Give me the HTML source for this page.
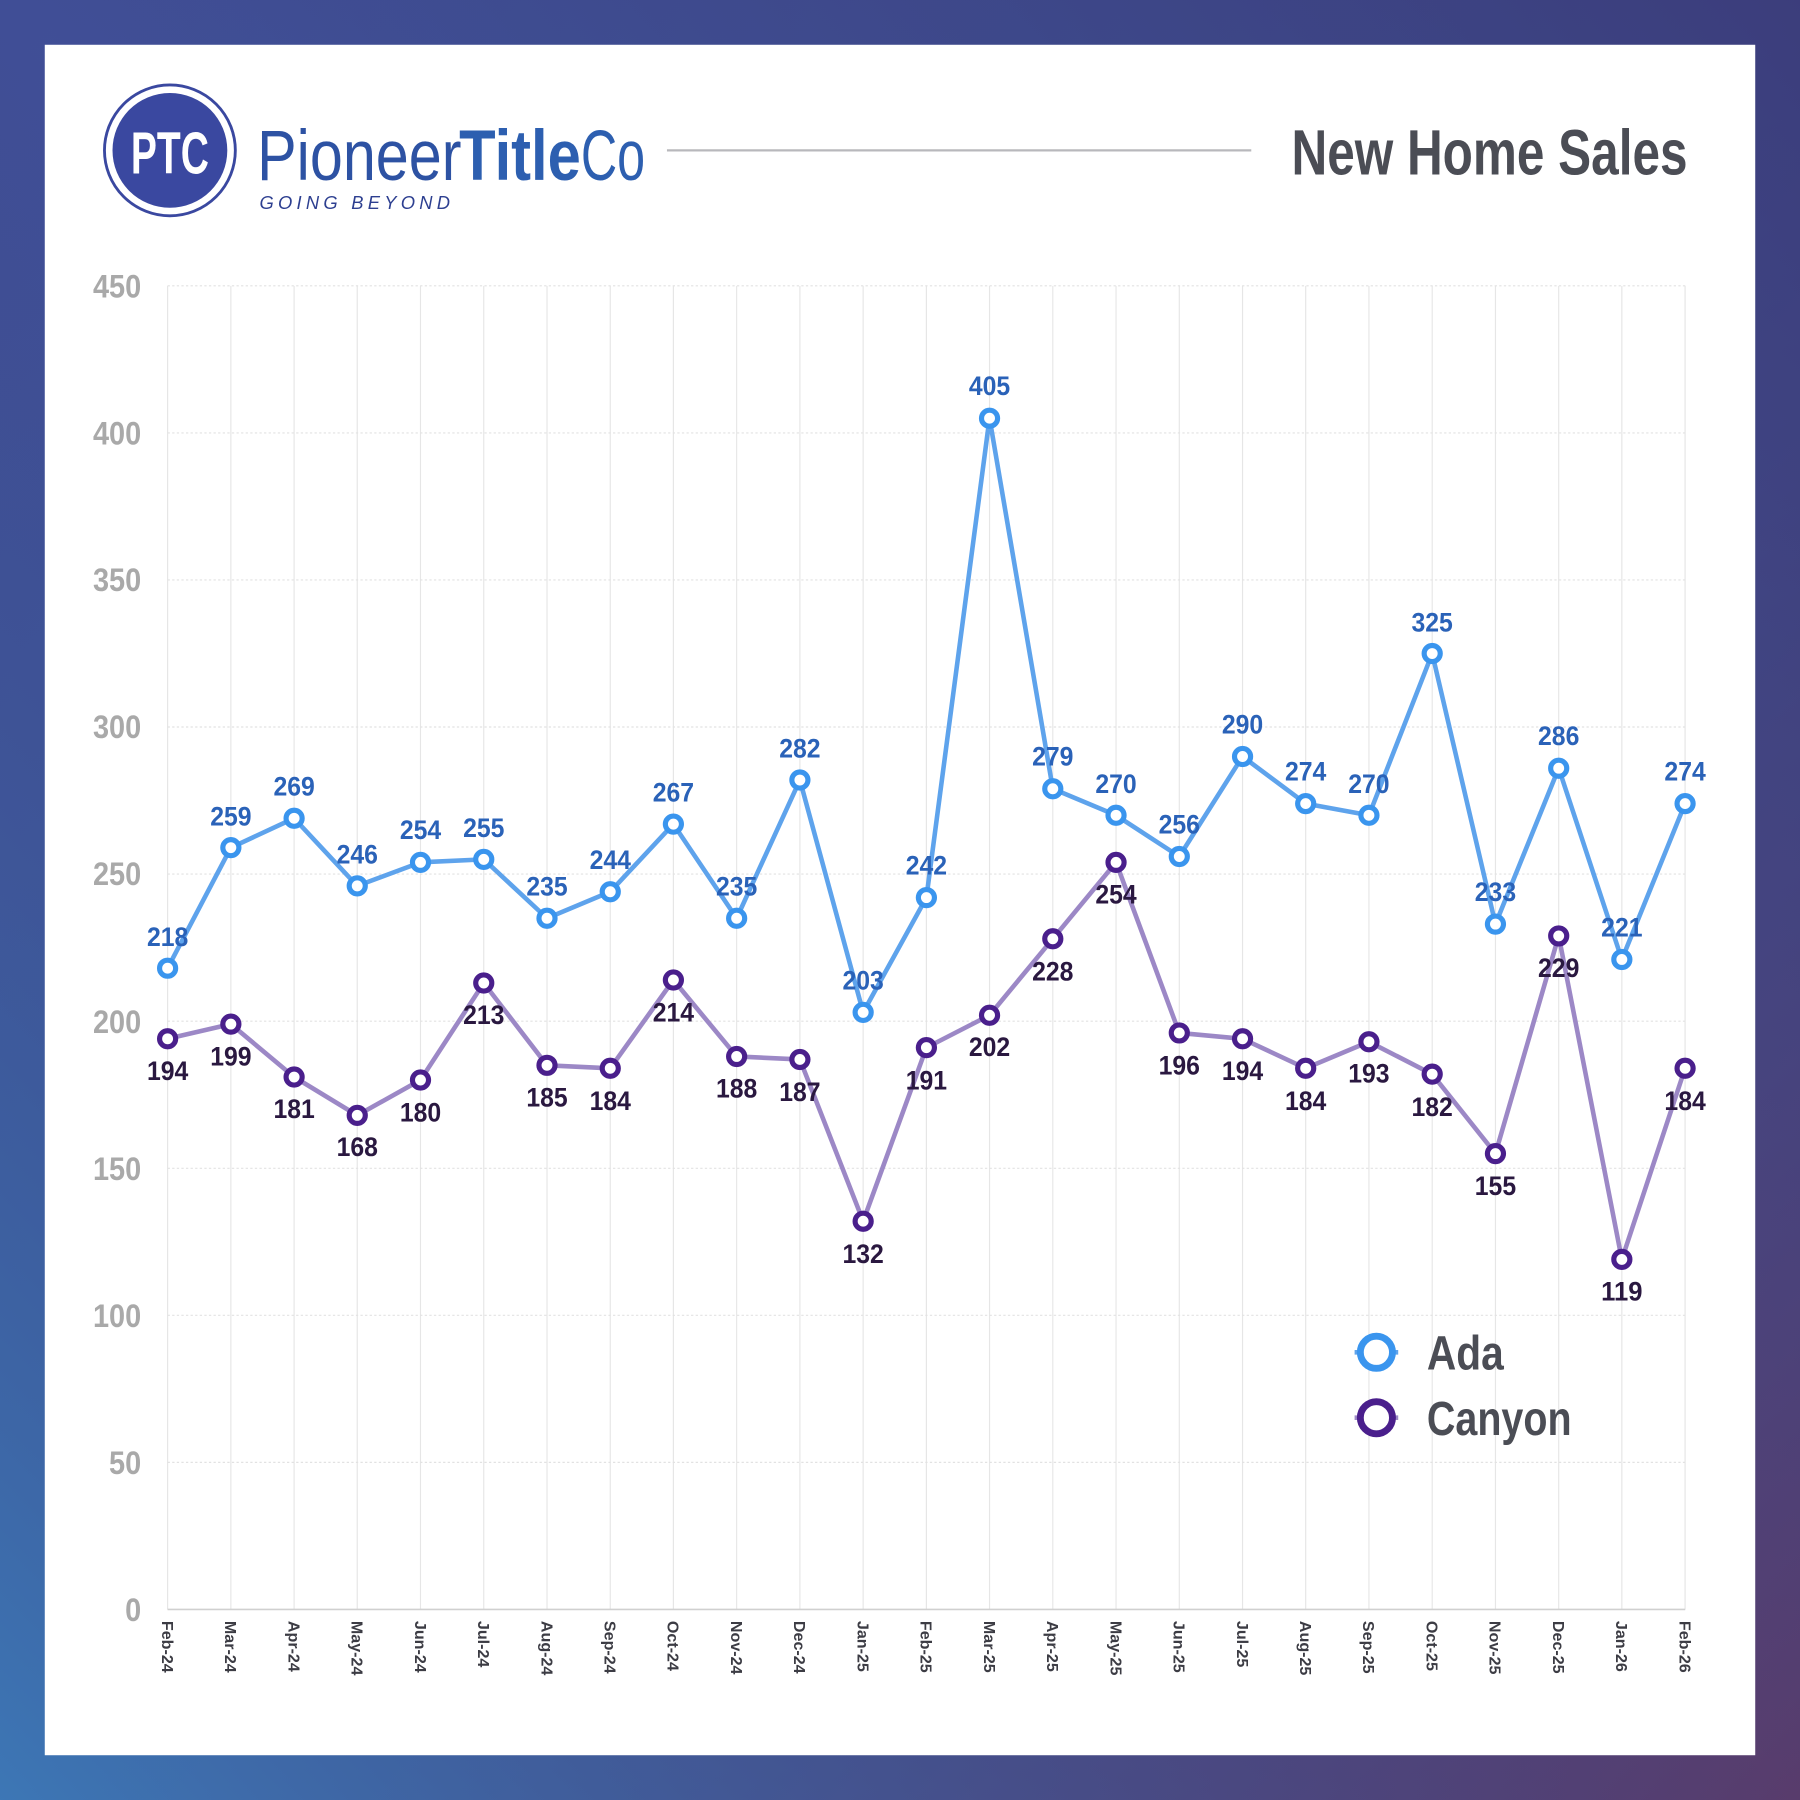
<!DOCTYPE html>
<html><head><meta charset="utf-8"><style>
html,body{margin:0;padding:0;width:1800px;height:1800px;overflow:hidden}
svg{display:block}
text{font-family:"Liberation Sans",sans-serif}
</style></head><body>
<svg width="1800" height="1800" viewBox="0 0 1568 1568" xmlns="http://www.w3.org/2000/svg">
<defs>
<linearGradient id="bg" x1="0" y1="0" x2="1" y2="1">
<stop offset="0" stop-color="#404e96"/><stop offset="0.5" stop-color="#3d5a9e"/><stop offset="1" stop-color="#583c6c"/>
</linearGradient>
<linearGradient id="bg2" x1="1" y1="0" x2="0" y2="1">
<stop offset="0" stop-color="#3c3a78" stop-opacity="0.9"/><stop offset="0.5" stop-color="#3c3a78" stop-opacity="0"/><stop offset="1" stop-color="#3d7ab8" stop-opacity="0.9"/>
</linearGradient>
</defs>
<rect width="1568" height="1568" fill="url(#bg)"/>
<rect width="1568" height="1568" fill="url(#bg2)"/>
<rect x="39" y="39" width="1490" height="1490" fill="#fff"/>

<!-- logo -->
<circle cx="148" cy="131" r="57" fill="#fff" stroke="#3a48a0" stroke-width="2.5"/>
<circle cx="148" cy="131" r="50" fill="#3a48a0"/>
<text x="148" y="151" text-anchor="middle" font-size="52" font-weight="bold" fill="#fff" textLength="68" lengthAdjust="spacingAndGlyphs">PTC</text>
<text x="224" y="157" font-size="62" fill="#2d52a3" textLength="178" lengthAdjust="spacingAndGlyphs">Pioneer</text>
<text x="400" y="157" font-size="62" font-weight="bold" fill="#2d5fb0" textLength="106" lengthAdjust="spacingAndGlyphs">Title</text>
<text x="506" y="157" font-size="62" fill="#2d5fb0" textLength="56" lengthAdjust="spacingAndGlyphs">Co</text>
<text x="226" y="182" font-size="16" font-style="italic" fill="#2d3f90" textLength="166" lengthAdjust="spacing">GOING  BEYOND</text>
<line x1="581" y1="131" x2="1090" y2="131" stroke="#b8b8bc" stroke-width="2"/>
<text x="1470" y="152" text-anchor="end" font-size="56" font-weight="bold" fill="#4b4d55" textLength="345" lengthAdjust="spacingAndGlyphs">New Home Sales</text>

<!-- grid -->
<g stroke="#e6e6e6" stroke-width="1">
<line x1="146" y1="249" x2="146" y2="1402"/><line x1="201.1" y1="249" x2="201.1" y2="1402"/><line x1="256.2" y1="249" x2="256.2" y2="1402"/><line x1="311.2" y1="249" x2="311.2" y2="1402"/><line x1="366.3" y1="249" x2="366.3" y2="1402"/><line x1="421.4" y1="249" x2="421.4" y2="1402"/><line x1="476.5" y1="249" x2="476.5" y2="1402"/><line x1="531.6" y1="249" x2="531.6" y2="1402"/><line x1="586.6" y1="249" x2="586.6" y2="1402"/><line x1="641.7" y1="249" x2="641.7" y2="1402"/><line x1="696.8" y1="249" x2="696.8" y2="1402"/><line x1="751.9" y1="249" x2="751.9" y2="1402"/><line x1="807" y1="249" x2="807" y2="1402"/><line x1="862" y1="249" x2="862" y2="1402"/><line x1="917.1" y1="249" x2="917.1" y2="1402"/><line x1="972.2" y1="249" x2="972.2" y2="1402"/><line x1="1027.3" y1="249" x2="1027.3" y2="1402"/><line x1="1082.4" y1="249" x2="1082.4" y2="1402"/><line x1="1137.4" y1="249" x2="1137.4" y2="1402"/><line x1="1192.5" y1="249" x2="1192.5" y2="1402"/><line x1="1247.6" y1="249" x2="1247.6" y2="1402"/><line x1="1302.7" y1="249" x2="1302.7" y2="1402"/><line x1="1357.8" y1="249" x2="1357.8" y2="1402"/><line x1="1412.8" y1="249" x2="1412.8" y2="1402"/><line x1="1467.9" y1="249" x2="1467.9" y2="1402"/>
</g>
<g stroke="#e2e2e2" stroke-width="1" stroke-dasharray="2,2">
<line x1="146" y1="249" x2="1468" y2="249"/><line x1="146" y1="377.1" x2="1468" y2="377.1"/><line x1="146" y1="505.2" x2="1468" y2="505.2"/><line x1="146" y1="633.3" x2="1468" y2="633.3"/><line x1="146" y1="761.4" x2="1468" y2="761.4"/><line x1="146" y1="889.6" x2="1468" y2="889.6"/><line x1="146" y1="1017.7" x2="1468" y2="1017.7"/><line x1="146" y1="1145.8" x2="1468" y2="1145.8"/><line x1="146" y1="1273.9" x2="1468" y2="1273.9"/>
</g>
<line x1="146" y1="1402" x2="1468" y2="1402" stroke="#d0d0d0" stroke-width="1.5"/>

<!-- y labels -->
<g font-size="28" font-weight="bold" fill="#a9a9a9" text-anchor="end">
<text x="123" y="259" textLength="42" lengthAdjust="spacingAndGlyphs">450</text>
<text x="123" y="387" textLength="42" lengthAdjust="spacingAndGlyphs">400</text>
<text x="123" y="515" textLength="42" lengthAdjust="spacingAndGlyphs">350</text>
<text x="123" y="643" textLength="42" lengthAdjust="spacingAndGlyphs">300</text>
<text x="123" y="771" textLength="42" lengthAdjust="spacingAndGlyphs">250</text>
<text x="123" y="900" textLength="42" lengthAdjust="spacingAndGlyphs">200</text>
<text x="123" y="1028" textLength="42" lengthAdjust="spacingAndGlyphs">150</text>
<text x="123" y="1156" textLength="42" lengthAdjust="spacingAndGlyphs">100</text>
<text x="123" y="1284" textLength="28" lengthAdjust="spacingAndGlyphs">50</text>
<text x="123" y="1412" textLength="14" lengthAdjust="spacingAndGlyphs">0</text>
</g>

<!-- x labels -->
<g font-size="14" font-weight="bold" fill="#3c3c44">
<text transform="translate(141,1412) rotate(90)">Feb-24</text>
<text transform="translate(196.1,1412) rotate(90)">Mar-24</text>
<text transform="translate(251.2,1412) rotate(90)">Apr-24</text>
<text transform="translate(306.2,1412) rotate(90)">May-24</text>
<text transform="translate(361.3,1412) rotate(90)">Jun-24</text>
<text transform="translate(416.4,1412) rotate(90)">Jul-24</text>
<text transform="translate(471.5,1412) rotate(90)">Aug-24</text>
<text transform="translate(526.6,1412) rotate(90)">Sep-24</text>
<text transform="translate(581.6,1412) rotate(90)">Oct-24</text>
<text transform="translate(636.7,1412) rotate(90)">Nov-24</text>
<text transform="translate(691.8,1412) rotate(90)">Dec-24</text>
<text transform="translate(746.9,1412) rotate(90)">Jan-25</text>
<text transform="translate(802,1412) rotate(90)">Feb-25</text>
<text transform="translate(857,1412) rotate(90)">Mar-25</text>
<text transform="translate(912.1,1412) rotate(90)">Apr-25</text>
<text transform="translate(967.2,1412) rotate(90)">May-25</text>
<text transform="translate(1022.3,1412) rotate(90)">Jun-25</text>
<text transform="translate(1077.4,1412) rotate(90)">Jul-25</text>
<text transform="translate(1132.4,1412) rotate(90)">Aug-25</text>
<text transform="translate(1187.5,1412) rotate(90)">Sep-25</text>
<text transform="translate(1242.6,1412) rotate(90)">Oct-25</text>
<text transform="translate(1297.7,1412) rotate(90)">Nov-25</text>
<text transform="translate(1352.8,1412) rotate(90)">Dec-25</text>
<text transform="translate(1407.8,1412) rotate(90)">Jan-26</text>
<text transform="translate(1462.9,1412) rotate(90)">Feb-26</text>
</g>

<!-- Canyon -->
<polyline fill="none" stroke="#9c88c6" stroke-width="4" stroke-linejoin="round" points="146,904.9 201.1,892.1 256.2,938.2 311.2,971.6 366.3,940.8 421.4,856.3 476.5,928 531.6,930.6 586.6,853.7 641.7,920.3 696.8,922.9 751.9,1063.8 807,912.6 862,884.4 917.1,817.8 972.2,751.2 1027.3,899.8 1082.4,904.9 1137.4,930.6 1192.5,907.5 1247.6,935.7 1302.7,1004.9 1357.8,815.3 1412.8,1097.1 1467.9,930.6"/>
<!-- Ada -->
<polyline fill="none" stroke="#5ea3ec" stroke-width="4" stroke-linejoin="round" points="146,843.4 201.1,738.4 256.2,712.8 311.2,771.7 366.3,751.2 421.4,748.6 476.5,799.9 531.6,776.8 586.6,717.9 641.7,799.9 696.8,679.5 751.9,881.9 807,781.9 862,364.3 917.1,687.1 972.2,710.2 1027.3,746.1 1082.4,659 1137.4,700 1192.5,710.2 1247.6,569.3 1302.7,805 1357.8,669.2 1412.8,835.8 1467.9,700"/>

<g fill="#fff" stroke="#4a1f8c" stroke-width="4.5">
<circle cx="146" cy="904.9" r="7"/><circle cx="201.1" cy="892.1" r="7"/><circle cx="256.2" cy="938.2" r="7"/><circle cx="311.2" cy="971.6" r="7"/><circle cx="366.3" cy="940.8" r="7"/><circle cx="421.4" cy="856.3" r="7"/><circle cx="476.5" cy="928" r="7"/><circle cx="531.6" cy="930.6" r="7"/><circle cx="586.6" cy="853.7" r="7"/><circle cx="641.7" cy="920.3" r="7"/><circle cx="696.8" cy="922.9" r="7"/><circle cx="751.9" cy="1063.8" r="7"/><circle cx="807" cy="912.6" r="7"/><circle cx="862" cy="884.4" r="7"/><circle cx="917.1" cy="817.8" r="7"/><circle cx="972.2" cy="751.2" r="7"/><circle cx="1027.3" cy="899.8" r="7"/><circle cx="1082.4" cy="904.9" r="7"/><circle cx="1137.4" cy="930.6" r="7"/><circle cx="1192.5" cy="907.5" r="7"/><circle cx="1247.6" cy="935.7" r="7"/><circle cx="1302.7" cy="1004.9" r="7"/><circle cx="1357.8" cy="815.3" r="7"/><circle cx="1412.8" cy="1097.1" r="7"/><circle cx="1467.9" cy="930.6" r="7"/>
</g>
<g fill="#fff" stroke="#3a95ee" stroke-width="4.5">
<circle cx="146" cy="843.4" r="7"/><circle cx="201.1" cy="738.4" r="7"/><circle cx="256.2" cy="712.8" r="7"/><circle cx="311.2" cy="771.7" r="7"/><circle cx="366.3" cy="751.2" r="7"/><circle cx="421.4" cy="748.6" r="7"/><circle cx="476.5" cy="799.9" r="7"/><circle cx="531.6" cy="776.8" r="7"/><circle cx="586.6" cy="717.9" r="7"/><circle cx="641.7" cy="799.9" r="7"/><circle cx="696.8" cy="679.5" r="7"/><circle cx="751.9" cy="881.9" r="7"/><circle cx="807" cy="781.9" r="7"/><circle cx="862" cy="364.3" r="7"/><circle cx="917.1" cy="687.1" r="7"/><circle cx="972.2" cy="710.2" r="7"/><circle cx="1027.3" cy="746.1" r="7"/><circle cx="1082.4" cy="659" r="7"/><circle cx="1137.4" cy="700" r="7"/><circle cx="1192.5" cy="710.2" r="7"/><circle cx="1247.6" cy="569.3" r="7"/><circle cx="1302.7" cy="805" r="7"/><circle cx="1357.8" cy="669.2" r="7"/><circle cx="1412.8" cy="835.8" r="7"/><circle cx="1467.9" cy="700" r="7"/>
</g>

<!-- Canyon labels -->
<g font-size="23" font-weight="bold" fill="#2a1840" text-anchor="middle">
<text x="146" y="941" textLength="36" lengthAdjust="spacingAndGlyphs">194</text>
<text x="201.1" y="928" textLength="36" lengthAdjust="spacingAndGlyphs">199</text>
<text x="256.2" y="974" textLength="36" lengthAdjust="spacingAndGlyphs">181</text>
<text x="311.2" y="1007" textLength="36" lengthAdjust="spacingAndGlyphs">168</text>
<text x="366.3" y="977" textLength="36" lengthAdjust="spacingAndGlyphs">180</text>
<text x="421.4" y="892" textLength="36" lengthAdjust="spacingAndGlyphs">213</text>
<text x="476.5" y="964" textLength="36" lengthAdjust="spacingAndGlyphs">185</text>
<text x="531.6" y="967" textLength="36" lengthAdjust="spacingAndGlyphs">184</text>
<text x="586.6" y="890" textLength="36" lengthAdjust="spacingAndGlyphs">214</text>
<text x="641.7" y="956" textLength="36" lengthAdjust="spacingAndGlyphs">188</text>
<text x="696.8" y="959" textLength="36" lengthAdjust="spacingAndGlyphs">187</text>
<text x="751.9" y="1100" textLength="36" lengthAdjust="spacingAndGlyphs">132</text>
<text x="807" y="949" textLength="36" lengthAdjust="spacingAndGlyphs">191</text>
<text x="862" y="920" textLength="36" lengthAdjust="spacingAndGlyphs">202</text>
<text x="917.1" y="854" textLength="36" lengthAdjust="spacingAndGlyphs">228</text>
<text x="972.2" y="787" textLength="36" lengthAdjust="spacingAndGlyphs">254</text>
<text x="1027.3" y="936" textLength="36" lengthAdjust="spacingAndGlyphs">196</text>
<text x="1082.4" y="941" textLength="36" lengthAdjust="spacingAndGlyphs">194</text>
<text x="1137.4" y="967" textLength="36" lengthAdjust="spacingAndGlyphs">184</text>
<text x="1192.5" y="943" textLength="36" lengthAdjust="spacingAndGlyphs">193</text>
<text x="1247.6" y="972" textLength="36" lengthAdjust="spacingAndGlyphs">182</text>
<text x="1302.7" y="1041" textLength="36" lengthAdjust="spacingAndGlyphs">155</text>
<text x="1357.8" y="851" textLength="36" lengthAdjust="spacingAndGlyphs">229</text>
<text x="1412.8" y="1133" textLength="36" lengthAdjust="spacingAndGlyphs">119</text>
<text x="1467.9" y="967" textLength="36" lengthAdjust="spacingAndGlyphs">184</text>
</g>
<!-- Ada labels -->
<g font-size="23" font-weight="bold" fill="#2a62b8" text-anchor="middle">
<text x="146" y="824" textLength="36" lengthAdjust="spacingAndGlyphs">218</text>
<text x="201.1" y="719" textLength="36" lengthAdjust="spacingAndGlyphs">259</text>
<text x="256.2" y="693" textLength="36" lengthAdjust="spacingAndGlyphs">269</text>
<text x="311.2" y="752" textLength="36" lengthAdjust="spacingAndGlyphs">246</text>
<text x="366.3" y="731" textLength="36" lengthAdjust="spacingAndGlyphs">254</text>
<text x="421.4" y="729" textLength="36" lengthAdjust="spacingAndGlyphs">255</text>
<text x="476.5" y="780" textLength="36" lengthAdjust="spacingAndGlyphs">235</text>
<text x="531.6" y="757" textLength="36" lengthAdjust="spacingAndGlyphs">244</text>
<text x="586.6" y="698" textLength="36" lengthAdjust="spacingAndGlyphs">267</text>
<text x="641.7" y="780" textLength="36" lengthAdjust="spacingAndGlyphs">235</text>
<text x="696.8" y="660" textLength="36" lengthAdjust="spacingAndGlyphs">282</text>
<text x="751.9" y="862" textLength="36" lengthAdjust="spacingAndGlyphs">203</text>
<text x="807" y="762" textLength="36" lengthAdjust="spacingAndGlyphs">242</text>
<text x="862" y="344" textLength="36" lengthAdjust="spacingAndGlyphs">405</text>
<text x="917.1" y="667" textLength="36" lengthAdjust="spacingAndGlyphs">279</text>
<text x="972.2" y="691" textLength="36" lengthAdjust="spacingAndGlyphs">270</text>
<text x="1027.3" y="726" textLength="36" lengthAdjust="spacingAndGlyphs">256</text>
<text x="1082.4" y="639" textLength="36" lengthAdjust="spacingAndGlyphs">290</text>
<text x="1137.4" y="680" textLength="36" lengthAdjust="spacingAndGlyphs">274</text>
<text x="1192.5" y="691" textLength="36" lengthAdjust="spacingAndGlyphs">270</text>
<text x="1247.6" y="550" textLength="36" lengthAdjust="spacingAndGlyphs">325</text>
<text x="1302.7" y="785" textLength="36" lengthAdjust="spacingAndGlyphs">233</text>
<text x="1357.8" y="649" textLength="36" lengthAdjust="spacingAndGlyphs">286</text>
<text x="1412.8" y="816" textLength="36" lengthAdjust="spacingAndGlyphs">221</text>
<text x="1467.9" y="680" textLength="36" lengthAdjust="spacingAndGlyphs">274</text>
</g>

<!-- legend -->
<line x1="1180" y1="1178" x2="1218" y2="1178" stroke="#5ea3ec" stroke-width="4"/>
<circle cx="1199" cy="1178" r="14" fill="#fff" stroke="#3a95ee" stroke-width="6"/>
<line x1="1180" y1="1235" x2="1218" y2="1235" stroke="#9c88c6" stroke-width="4"/>
<circle cx="1199" cy="1235" r="14" fill="#fff" stroke="#4a1f8c" stroke-width="6"/>
<g font-size="42" font-weight="bold" fill="#4b4d55">
<text x="1243" y="1193" textLength="67" lengthAdjust="spacingAndGlyphs">Ada</text>
<text x="1243" y="1250" textLength="126" lengthAdjust="spacingAndGlyphs">Canyon</text>
</g>
</svg>
</body></html>
